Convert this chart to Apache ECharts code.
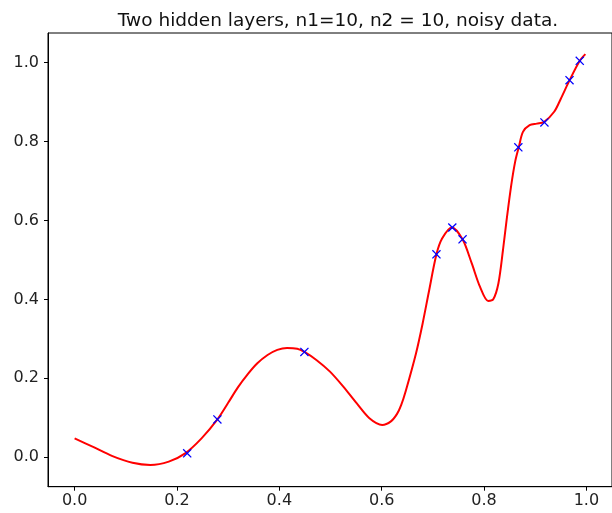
<!DOCTYPE html>
<html>
<head>
<meta charset="utf-8">
<script src="https://cdn.jsdelivr.net/npm/echarts@6/dist/echarts.min.js"></script>
<style>html,body{margin:0;padding:0;background:#fff}#c{width:612px;height:513px}</style>
</head>
<body>
<div id="c"></div>
<script>
// Fitted curve (red line)
var curveX = [0.0, 0.035, 0.074, 0.113, 0.148, 0.184, 0.216, 0.248, 0.279, 0.300, 0.319, 0.338, 0.357, 0.377, 0.396, 0.415, 0.435, 0.449, 0.473, 0.499, 0.525, 0.551, 0.576, 0.601, 0.618, 0.630, 0.638, 0.647, 0.667, 0.680, 0.692, 0.707, 0.718, 0.737, 0.758, 0.776, 0.792, 0.808, 0.818, 0.828, 0.837, 0.844, 0.853, 0.861, 0.868, 0.876, 0.889, 0.903, 0.917, 0.937, 0.950, 0.966, 0.987, 0.998];
var curveY = [0.048, 0.027, 0.003, -0.014, -0.0195, -0.011, 0.010, 0.048, 0.096, 0.138, 0.177, 0.210, 0.238, 0.259, 0.272, 0.277, 0.275, 0.267, 0.246, 0.217, 0.179, 0.137, 0.099, 0.082, 0.091, 0.110, 0.132, 0.168, 0.263, 0.339, 0.418, 0.514, 0.554, 0.582, 0.552, 0.491, 0.432, 0.396, 0.400, 0.440, 0.525, 0.600, 0.688, 0.750, 0.786, 0.824, 0.841, 0.845, 0.849, 0.875, 0.908, 0.952, 1.004, 1.021];
// Noisy data points (blue x)
var pointX = [0.22, 0.279, 0.449, 0.707, 0.738, 0.758, 0.867, 0.918, 0.967, 0.987];
var pointY = [0.010, 0.096, 0.267, 0.514, 0.582, 0.552, 0.785, 0.848, 0.955, 1.004];
var tickX = [0.0, 0.2, 0.4, 0.6, 0.8, 1.0];
var tickY = [0.0, 0.2, 0.4, 0.6, 0.8, 1.0];
var titleText = 'Two hidden layers, n1=10, n2 = 10, noisy data.';

var curve = curveX.map(function (x, i) { return [x, curveY[i]]; });
var pts = pointX.map(function (x, i) { return [x, pointY[i]]; });
var xSym = 'path://M0,1L1,0L5,4L9,0L10,1L6,5L10,9L9,10L5,6L1,10L0,9L4,5Z';
var font = 'DejaVu Sans';

var chart = echarts.init(document.getElementById('c'), null, {renderer: 'canvas'});
chart.setOption({
  animation: false,
  backgroundColor: '#fff',
  title: {
    text: titleText, left: 333, top: 7, textAlign: 'center',
    textStyle: {fontFamily: font, fontSize: 18.5, fontWeight: 'normal', color: '#111'}
  },
  grid: {left: 48, right: -6.3, top: 33, bottom: 26.3, show: true, borderColor: '#000', borderWidth: 1, backgroundColor: 'transparent'},
  xAxis: {
    type: 'value', min: -0.052, max: 1.05,
    splitLine: {show: false},
    axisLine: {show: true, onZero: false, lineStyle: {color: '#000', width: 1}},
    axisTick: {show: true, length: 4, customValues: tickX, lineStyle: {color: '#000'}},
    axisLabel: {customValues: tickX, margin: 6, fontFamily: font, fontSize: 16, color: '#222',
      formatter: function (v) { return v.toFixed(1); }}
  },
  yAxis: {
    type: 'value', min: -0.0744, max: 1.0745,
    splitLine: {show: false},
    axisLine: {show: true, onZero: false, lineStyle: {color: '#000', width: 1}},
    axisTick: {show: true, length: 4, customValues: tickY, lineStyle: {color: '#000'}},
    axisLabel: {customValues: tickY, margin: 9, fontFamily: font, fontSize: 16, color: '#222',
      formatter: function (v) { return v.toFixed(1); }}
  },
  series: [
    {type: 'line', data: curve, smooth: 0.3, showSymbol: false, symbol: 'none',
     lineStyle: {color: '#ff0000', width: 2}, z: 2},
    {type: 'scatter', data: pts, symbol: xSym, symbolSize: 9,
     itemStyle: {color: '#0000ff', opacity: 1}, z: 3}
  ]
});
</script>
</body>
</html>
